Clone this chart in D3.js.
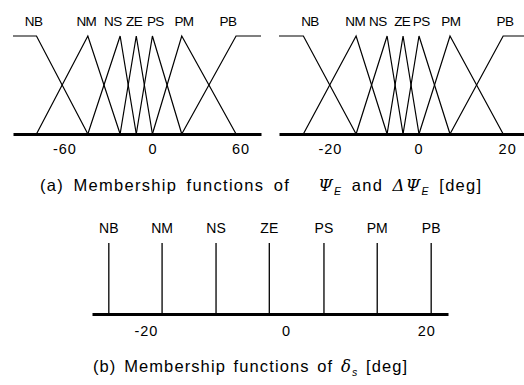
<!DOCTYPE html>
<html>
<head>
<meta charset="utf-8">
<script src="https://cdn.jsdelivr.net/npm/d3@7"></script>
<style>
  body { margin: 0; background: #fff; }
  svg { display: block; }
  text { font-family: "Liberation Sans", Arial, sans-serif; fill: #000; }
  .setlabel { font-family: "Liberation Sans Narrow", "Liberation Sans", Arial, sans-serif; font-size: 13.5px; letter-spacing: -0.6px; }
  .tick text { font-size: 14.5px; letter-spacing: 1px; }
  .caption { font-size: 16.5px; letter-spacing: 1.3px; word-spacing: 3.5px; }
  .caption.b { letter-spacing: 1.1px; word-spacing: 2px; }
</style>
</head>
<body>
<div id="chart"></div>
<script>
'use strict';

// fuzzy sets, same order in every panel
const setNames = ['NB', 'NM', 'NS', 'ZE', 'PS', 'PM', 'PB'];

// (a) left: psi_E [deg], breakpoints
const psiPeaks    = [-79, -44, -22, -11, 0, 20, 57];
const psiRange    = [-95, 74];
const psiTicks    = [-60, 0, 60];
const psiLabelAt  = [-81, -45, -27, -12.5, 2, 21.5, 51.5];

// (a) right: delta psi_E [deg]
const dpsiPeaks   = [-26, -14.1, -7.1, -3.5, 0.1, 7.1, 19.1];
const dpsiRange   = [-31.5, 23.8];
const dpsiTicks   = [-20, 0, 20];
const dpsiLabelAt = [-24.5, -14.3, -9.2, -3.7, 0.6, 7.3, 19.5];

// (b) delta_s [deg], singletons
const deltaSingletons = [-25.3, -17.7, -10, -2.4, 5.4, 13, 20.7];
const deltaRange      = [-27.7, 23.1];
const deltaTicks      = [-20, 0, 20];

const width = 524, height = 385;

const svg = d3.select('#chart')
  .append('svg')
  .attr('width', width)
  .attr('height', height);

// trapezoid / triangle outline for set i from the breakpoints
function setShape(peaks, range, i) {
  const n = peaks.length;
  if (i === 0) return [[range[0], 1], [peaks[0], 1], [peaks[1], 0]];
  if (i === n - 1) return [[peaks[n - 2], 0], [peaks[n - 1], 1], [range[1], 1]];
  return [[peaks[i - 1], 0], [peaks[i], 1], [peaks[i + 1], 0]];
}

function drawAxis(g, x, ticks, y0, pad) {
  const axis = d3.axisBottom(x)
    .tickValues(ticks)
    .tickSize(0)
    .tickPadding(pad)
    .tickFormat(d => String(d));
  const ag = g.append('g')
    .attr('transform', `translate(0,${y0})`)
    .call(axis);
  ag.select('.domain')
    .attr('stroke', '#000')
    .attr('stroke-width', 2.8);
  ag.selectAll('.tick text')
    .attr('font-family', null)
    .attr('font-size', null);
  return ag;
}

function drawMembership(cfg) {
  const x = d3.scaleLinear().domain(cfg.range).range(cfg.px);
  const y = d3.scaleLinear().domain([0, 1]).range([134, 36]);
  const g = svg.append('g');

  const line = d3.line()
    .x(d => x(d[0]))
    .y(d => y(d[1]));

  g.selectAll('path.mf')
    .data(setNames.map((s, i) => setShape(cfg.peaks, cfg.range, i)))
    .enter()
    .append('path')
    .attr('class', 'mf')
    .attr('d', line)
    .attr('fill', 'none')
    .attr('stroke', '#000')
    .attr('stroke-width', 1.2);

  g.selectAll('text.setlabel')
    .data(setNames)
    .enter()
    .append('text')
    .attr('class', 'setlabel')
    .attr('x', (d, i) => x(cfg.labelAt[i]))
    .attr('y', 26)
    .attr('text-anchor', 'middle')
    .text(d => d);

  drawAxis(g, x, cfg.ticks, 134, 10);
}

drawMembership({ peaks: psiPeaks, range: psiRange, px: [13, 261], ticks: psiTicks, labelAt: psiLabelAt });
drawMembership({ peaks: dpsiPeaks, range: dpsiRange, px: [279, 524], ticks: dpsiTicks, labelAt: dpsiLabelAt });

// caption (a)
const capA = svg.append('text')
  .attr('class', 'caption')
  .attr('x', 40)
  .attr('y', 191);
capA.append('tspan').text('(a) Membership functions of\u00a0\u00a0\u00a0');
capA.append('tspan').attr('font-style', 'italic').attr('font-family', 'DejaVu Serif, serif').text('\u03A8');
capA.append('tspan').attr('font-style', 'italic').attr('font-size', '10.5px').attr('dy', 4).text('E');
capA.append('tspan').attr('dy', -4).text(' and ');
capA.append('tspan').attr('font-style', 'italic').attr('font-family', 'DejaVu Serif, serif').text('\u0394\u03A8');
capA.append('tspan').attr('font-style', 'italic').attr('font-size', '10.5px').attr('dy', 4).text('E');
capA.append('tspan').attr('dy', -4).text(' [deg]');

// (b) singleton output sets
const xb = d3.scaleLinear().domain(deltaRange).range([92, 448]);
const yb = d3.scaleLinear().domain([0, 1]).range([314, 243]);
const gb = svg.append('g');

gb.selectAll('line.single')
  .data(deltaSingletons)
  .enter()
  .append('line')
  .attr('class', 'single')
  .attr('x1', d => xb(d))
  .attr('x2', d => xb(d))
  .attr('y1', yb(0))
  .attr('y2', yb(1))
  .attr('stroke', '#000')
  .attr('stroke-width', 1.3);

gb.selectAll('text.blabel')
  .data(setNames)
  .enter()
  .append('text')
  .attr('class', 'blabel')
  .attr('x', (d, i) => xb(deltaSingletons[i]))
  .attr('y', 233)
  .attr('text-anchor', 'middle')
  .attr('font-size', '14px')
  .text(d => d);

drawAxis(gb, xb, deltaTicks, 314, 12);

// caption (b)
const capB = svg.append('text')
  .attr('class', 'caption b')
  .attr('x', 93)
  .attr('y', 372);
capB.append('tspan').text('(b) Membership functions of ');
capB.append('tspan').attr('font-style', 'italic').attr('font-family', 'DejaVu Serif, serif').text('\u03B4');
capB.append('tspan').attr('font-style', 'italic').attr('font-size', '10.5px').attr('dy', 4).text('s');
capB.append('tspan').attr('dy', -4).text(' [deg]');
</script>
</body>
</html>
